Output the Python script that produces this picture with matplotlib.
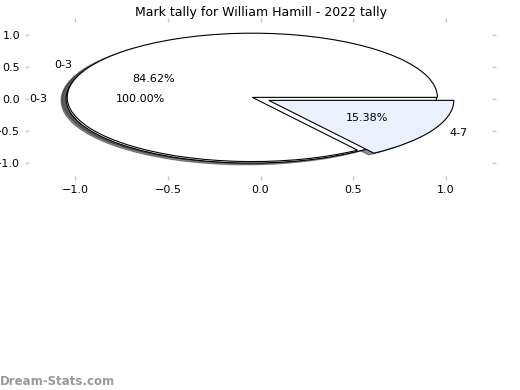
import matplotlib
matplotlib.use("Agg")
import matplotlib.pyplot as plt

# dane
etykiety_calosc = ["0-3"]
wartosci_calosc = [100.0]

etykiety = ["0-3", "4-7"]
wartosci = [84.62, 15.38]
kolory = ["white", "#eaf1fc"]

tytul = "Mark tally for William Hamill - 2022 tally"

fig = plt.figure(figsize=(5.2, 3.9), dpi=100)
ax = fig.add_axes([0.056, 0.549, 0.89, 0.395])

wp = {"edgecolor": "black", "linewidth": 0.8}
tp = {"fontsize": 8}
cien = {"shade": 0.85}

# pierwszy wykres - calosc
ax.pie(wartosci_calosc, labels=etykiety_calosc, colors=["white"],
       explode=[0.05], autopct="%1.2f%%", shadow=cien, frame=True,
       wedgeprops=wp, textprops=tp)

# drugi wykres - podzial
ax.pie(wartosci, labels=etykiety, colors=kolory,
       explode=[0.05, 0.05], autopct="%1.2f%%", shadow=cien, frame=True,
       wedgeprops=wp, textprops=tp)

ax.set_aspect("auto")
ax.set_xlim(-1.25, 1.25)
ax.set_ylim(-1.2, 1.2)
ax.set_xticks([-1.0, -0.5, 0.0, 0.5, 1.0])
ax.set_yticks([-1.0, -0.5, 0.0, 0.5, 1.0])
for s in ax.spines.values():
    s.set_visible(False)
ax.tick_params(direction="out", length=3, width=1, color="#c8c8c8",
               top=True, right=True, labelsize=8)
ax.set_title(tytul, fontsize=9, pad=4)

fig.text(0.0, 0.012, "Dream-Stats.com", color="#999999", fontsize=8.5,
         fontweight="bold")

plt.savefig("out.png", dpi=100)
